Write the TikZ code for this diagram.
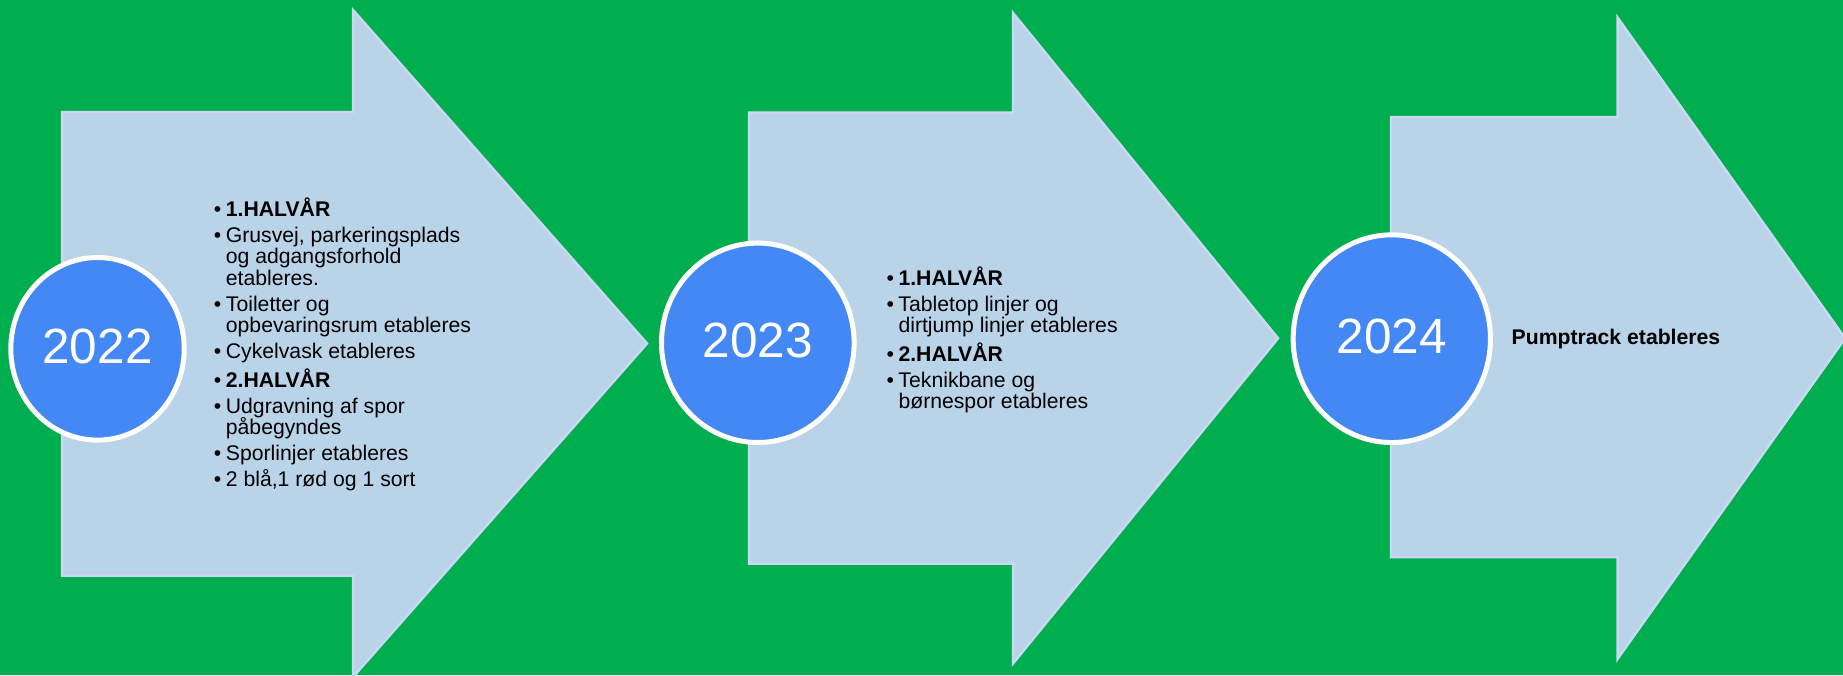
\documentclass[tikz,border=0pt]{standalone}
\usepackage{fontspec}
\setmainfont{Liberation Sans}
\usetikzlibrary{shapes.geometric}
\definecolor{bggreen}{RGB}{0,174,80}
\definecolor{arrowfill}{RGB}{185,211,233}
\definecolor{arrowline}{RGB}{202,216,244}
\definecolor{yearblue}{RGB}{68,136,245}
\newcommand{\bitem}[1]{{\hangindent=12pt\hangafter=1\noindent\makebox[12pt][l]{•}#1\par}}
\tikzset{
  bigarrow/.style={fill=arrowfill, draw=arrowline, line width=2.5pt, line join=miter},
  yearcirc/.style={ellipse, fill=yearblue, draw=white, line width=5pt, inner sep=0pt,
    text=white, font=\fontsize{49.5}{50}\selectfont},
  textblock/.style={anchor=base west, inner sep=0pt, text=black},
}
\begin{document}
\begin{tikzpicture}[x=1pt,y=-1pt]
\useasboundingbox (0,0) rectangle (1843,675);
\fill[bggreen] (0,0) rectangle (1843,675);
% arrows
\draw[bigarrow] (62,112) -- (353,112) -- (353,10) -- (647,343.5) -- (353,677) -- (353,575.5) -- (62,575.5) -- cycle;
\draw[bigarrow] (749,112.5) -- (1013,112.5) -- (1013,13) -- (1278,338.3) -- (1013,663.5) -- (1013,563.5) -- (749,563.5) -- cycle;
\draw[bigarrow] (1391,117) -- (1617.5,117) -- (1617.5,17.5) -- (1845,338.3) -- (1617.5,659) -- (1617.5,557) -- (1391,557) -- cycle;
% year circles
\node[yearcirc, minimum width=173.4pt, minimum height=182.6pt] (c1) at (97.5,348.8) {\raisebox{5pt}{2022}};
\node[yearcirc, minimum width=192.6pt, minimum height=199.4pt] (c2) at (757.8,342.8) {\raisebox{5pt}{2023}};
\node[yearcirc, minimum width=197.3pt, minimum height=207.7pt] (c3) at (1391.8,338.7) {\raisebox{5pt}{2024}};
% texts
\node[textblock] (t1) at (213.7,216) {\parbox[t]{330pt}{\fontsize{21.2}{21.6}\selectfont\setlength{\parskip}{4.4pt}%
\bitem{\textbf{1.HALVÅR}}
\bitem{Grusvej, parkeringsplads\newline og adgangsforhold\newline etableres.}
\bitem{Toiletter og\newline opbevaringsrum etableres}
\bitem{Cykelvask etableres}
\bitem{\textbf{2.HALVÅR}}
\bitem{Udgravning af spor\newline påbegyndes}
\bitem{Sporlinjer etableres}
\bitem{2 blå,1 rød og 1 sort}}};
\node[textblock] (t2) at (886.3,285) {\parbox[t]{330pt}{\fontsize{21.2}{21.6}\selectfont\setlength{\parskip}{4.4pt}%
\bitem{\textbf{1.HALVÅR}}
\bitem{Tabletop linjer og\newline dirtjump linjer etableres}
\bitem{\textbf{2.HALVÅR}}
\bitem{Teknikbane og\newline børnespor etableres}}};
\node[textblock, font=\fontsize{21.2}{21.6}\selectfont\bfseries] (t3) at (1511.5,344.3) {Pumptrack etableres};
\end{tikzpicture}
\end{document}
